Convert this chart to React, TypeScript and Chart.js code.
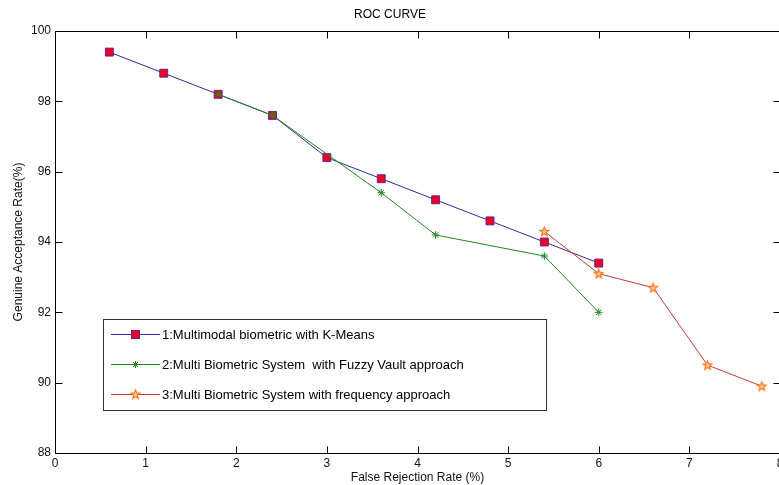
import React, { useEffect, useRef } from 'react';
import { Chart, registerables } from 'chart.js';

Chart.register(...registerables);

const FONT = '"Liberation Sans", Arial, sans-serif';

const chartTitle = 'ROC CURVE';
const xAxisTitle = 'False Rejection Rate (%)';
const yAxisTitle = 'Genuine Acceptance Rate(%)';

const seriesLabels = [
  '1:Multimodal biometric with K-Means',
  '2:Multi Biometric System  with Fuzzy Vault approach',
  '3:Multi Biometric System with frequency approach',
];

const kmeansX = [0.6, 1.2, 1.8, 2.4, 3.0, 3.6, 4.2, 4.8, 5.4, 6.0];
const kmeansY = [99.4, 98.8, 98.2, 97.6, 96.4, 95.8, 95.2, 94.6, 94.0, 93.4];

const fuzzyX = [1.8, 2.4, 3.6, 4.2, 5.4, 6.0];
const fuzzyY = [98.2, 97.6, 95.4, 94.2, 93.6, 92.0];

const freqX = [5.4, 6.0, 6.6, 7.2, 7.8];
const freqY = [94.3, 93.1, 92.7, 90.5, 89.9];

const xTicks = [0, 1, 2, 3, 4, 5, 6, 7, 8];
const yTicks = [88, 90, 92, 94, 96, 98, 100];

const BLUE = '#2b2ba8';
const SQ_FILL = '#ee0022';
const SQ_EDGE = '#6a1f9a';
const GREEN = '#1f8a1f';
const RED = '#c83a3a';
const STAR_EDGE = '#ff7010';
const STAR_FILL = '#ffd09a';

function makePentagram(): HTMLCanvasElement {
  const c = document.createElement('canvas');
  c.width = 11;
  c.height = 11;
  const g = c.getContext('2d')!;
  const cx = 5.5, cy = 5.8, ro = 4.7, ri = 1.9;
  g.beginPath();
  for (let i = 0; i < 10; i++) {
    const r = i % 2 === 0 ? ro : ri;
    const a = -Math.PI / 2 + (i * Math.PI) / 5;
    const px = cx + r * Math.cos(a);
    const py = cy + r * Math.sin(a);
    if (i === 0) g.moveTo(px, py);
    else g.lineTo(px, py);
  }
  g.closePath();
  g.fillStyle = STAR_FILL;
  g.fill();
  g.lineWidth = 1.1;
  g.strokeStyle = STAR_EDGE;
  g.stroke();
  return c;
}

function pts(xs: number[], ys: number[]) {
  return xs.map((x, i) => ({ x, y: ys[i] }));
}

export default function App() {
  const ref = useRef<HTMLCanvasElement | null>(null);

  useEffect(() => {
    document.body.style.overflow = 'hidden';
    document.documentElement.style.overflow = 'hidden';
    const canvas = ref.current;
    if (!canvas) return;
    const pent = makePentagram();

    const framePlugin = {
      id: 'matlabFrame',
      afterDraw(chart: any) {
        const ctx = chart.ctx as CanvasRenderingContext2D;
        const a = chart.chartArea;
        const xs = chart.scales.x;
        const ys = chart.scales.y;
        const L = Math.round(a.left) + 0.5;
        const R = Math.round(a.right) + 0.5;
        const T = Math.round(a.top) + 0.5;
        const B = Math.round(a.bottom) + 0.5;
        ctx.save();
        ctx.strokeStyle = '#000';
        ctx.lineWidth = 1;
        ctx.strokeRect(L, T, R - L, B - T);
        const tl = 7;
        ctx.beginPath();
        xTicks.forEach((v) => {
          const px = Math.round(xs.getPixelForValue(v)) + 0.5;
          ctx.moveTo(px, B);
          ctx.lineTo(px, B - tl);
          ctx.moveTo(px, T);
          ctx.lineTo(px, T + tl);
        });
        yTicks.forEach((v) => {
          const py = Math.round(ys.getPixelForValue(v)) + 0.5;
          ctx.moveTo(L, py);
          ctx.lineTo(L + tl, py);
          ctx.moveTo(R, py);
          ctx.lineTo(R - tl, py);
        });
        ctx.stroke();

        // legend
        const bx = 103.5, by = 319.5, bw = 443, bh = 91;
        ctx.fillStyle = '#fff';
        ctx.fillRect(bx, by, bw, bh);
        ctx.strokeStyle = '#333';
        ctx.strokeRect(bx, by, bw, bh);
        const rows = [334, 364, 394];
        const lineColors = [BLUE, GREEN, RED];
        ctx.font = `13px ${FONT}`;
        ctx.textBaseline = 'middle';
        ctx.textAlign = 'left';
        rows.forEach((ry, i) => {
          const y = ry + 0.5;
          ctx.strokeStyle = lineColors[i];
          ctx.lineWidth = 1;
          ctx.beginPath();
          ctx.moveTo(111, y);
          ctx.lineTo(160, y);
          ctx.stroke();
          const mx = 135.5;
          if (i === 0) {
            ctx.fillStyle = SQ_FILL;
            ctx.fillRect(mx - 4, y - 4, 8, 8);
            ctx.strokeStyle = SQ_EDGE;
            ctx.strokeRect(mx - 4, y - 4, 8, 8);
          } else if (i === 1) {
            ctx.strokeStyle = GREEN;
            ctx.beginPath();
            const r = 3.5;
            ctx.moveTo(mx - r, y); ctx.lineTo(mx + r, y);
            ctx.moveTo(mx, y - r); ctx.lineTo(mx, y + r);
            const d = r * Math.SQRT1_2;
            ctx.moveTo(mx - d, y - d); ctx.lineTo(mx + d, y + d);
            ctx.moveTo(mx - d, y + d); ctx.lineTo(mx + d, y - d);
            ctx.stroke();
          } else {
            ctx.drawImage(pent, mx - 5.5, y - 5.8);
          }
          ctx.fillStyle = '#000';
          ctx.fillText(seriesLabels[i], 162, ry + 1);
        });
        ctx.restore();
      },
    };

    const tickFont = { family: FONT, size: 12, weight: 'normal' as const };

    const chart = new Chart(canvas, {
      type: 'line',
      data: {
        datasets: [
          {
            label: seriesLabels[0],
            data: pts(kmeansX, kmeansY),
            borderColor: BLUE,
            borderWidth: 1,
            pointStyle: 'rect',
            pointRadius: 5.6,
            pointBackgroundColor: SQ_FILL,
            pointBorderColor: SQ_EDGE,
            pointBorderWidth: 1,
            tension: 0,
            order: 3,
          },
          {
            label: seriesLabels[1],
            data: pts(fuzzyX, fuzzyY),
            borderColor: GREEN,
            borderWidth: 1,
            pointStyle: 'star',
            pointRadius: 3.8,
            pointBorderColor: GREEN,
            pointBackgroundColor: GREEN,
            pointBorderWidth: 1,
            tension: 0,
            order: 2,
          },
          {
            label: seriesLabels[2],
            data: pts(freqX, freqY),
            borderColor: RED,
            borderWidth: 1,
            pointStyle: pent as any,
            pointRadius: 5,
            tension: 0,
            order: 1,
          },
        ],
      },
      options: {
        responsive: false,
        maintainAspectRatio: false,
        animation: false,
        devicePixelRatio: 1,
        events: [],
        layout: { padding: { left: 0, top: 0, right: 10, bottom: 0 } },
        plugins: {
          legend: { display: false },
          tooltip: { enabled: false },
          title: {
            display: true,
            text: chartTitle,
            color: '#000',
            font: tickFont,
            padding: { top: 7.8, bottom: 8.8 },
          },
        },
        scales: {
          x: {
            type: 'linear',
            min: 0,
            max: 8,
            afterBuildTicks: (s: any) => {
              s.ticks = xTicks.map((v) => ({ value: v }));
            },
            ticks: { color: '#111', font: tickFont, padding: 3, maxRotation: 0, autoSkip: false },
            grid: { display: false, drawTicks: false },
            border: { display: false },
            title: {
              display: true,
              text: xAxisTitle,
              color: '#111',
              font: tickFont,
              padding: { top: 0, bottom: 0 },
            },
            afterFit: (s: any) => {
              s.height = 32;
            },
          },
          y: {
            type: 'linear',
            min: 88,
            max: 100,
            afterBuildTicks: (s: any) => {
              s.ticks = yTicks.map((v) => ({ value: v }));
            },
            ticks: { color: '#111', font: tickFont, padding: 4, autoSkip: false },
            grid: { display: false, drawTicks: false },
            border: { display: false },
            title: {
              display: true,
              text: yAxisTitle,
              color: '#111',
              font: tickFont,
              padding: { top: 11, bottom: 0 },
            },
            afterFit: (s: any) => {
              s.width = 55;
            },
          },
        },
      },
      plugins: [framePlugin],
    });

    return () => {
      chart.destroy();
    };
  }, []);

  return (
    <div
      style={{
        position: 'fixed',
        left: 0,
        top: 0,
        width: 779,
        height: 485,
        overflow: 'hidden',
        background: '#fff',
      }}
    >
      <canvas ref={ref} width={790} height={485} style={{ display: 'block' }} />
    </div>
  );
}
